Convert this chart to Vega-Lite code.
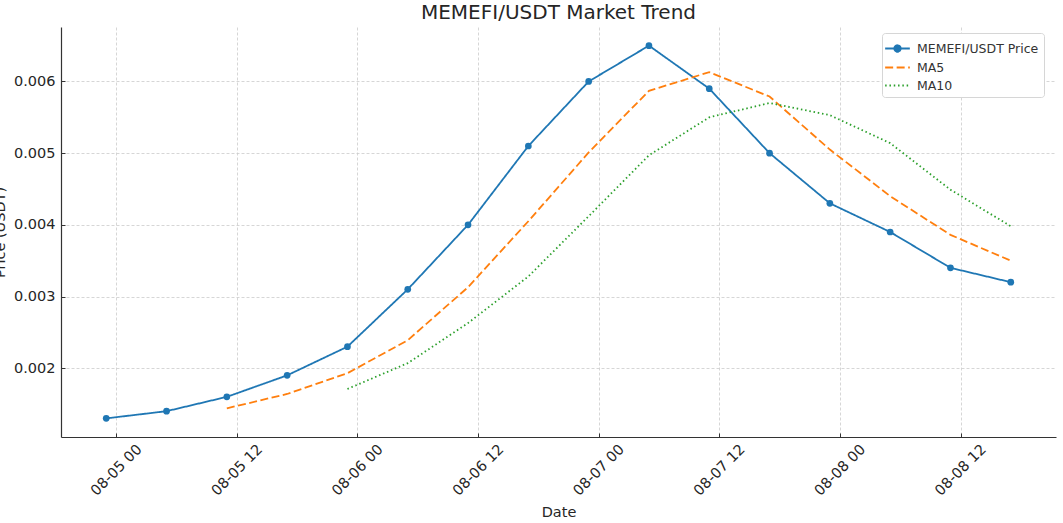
{
  "$schema": "https://vega.github.io/schema/vega-lite/v6.json",
  "autosize": {"type": "none"},
  "width": 995,
  "height": 410,
  "padding": {"left": 61, "top": 27, "right": 7, "bottom": 86},
  "background": "white",
  "title": {
    "text": "MEMEFI/USDT Market Trend",
    "font": "DejaVu Sans",
    "fontSize": 20,
    "fontWeight": "normal",
    "color": "#262626",
    "anchor": "middle",
    "offset": 4
  },
  "config": {
    "view": {"stroke": null},
    "font": "DejaVu Sans",
    "axis": {
      "labelFont": "DejaVu Sans",
      "labelFontSize": 14.5,
      "labelColor": "#262626",
      "titleFont": "DejaVu Sans",
      "titleFontSize": 14.5,
      "titleFontWeight": "normal",
      "titleColor": "#262626",
      "domainColor": "#333333",
      "domainWidth": 1.2,
      "tickColor": "#333333",
      "tickSize": -4,
      "tickWidth": 1,
      "grid": true,
      "gridColor": "#cccccc",
      "gridDash": [3, 2],
      "gridWidth": 0.8
    }
  },
  "data": {
    "values": [
      {"date": "2024-08-04T23:00:00", "series": "MEMEFI/USDT Price", "price": 0.0013},
      {"date": "2024-08-05T05:00:00", "series": "MEMEFI/USDT Price", "price": 0.0014},
      {"date": "2024-08-05T11:00:00", "series": "MEMEFI/USDT Price", "price": 0.0016},
      {"date": "2024-08-05T17:00:00", "series": "MEMEFI/USDT Price", "price": 0.0019},
      {"date": "2024-08-05T23:00:00", "series": "MEMEFI/USDT Price", "price": 0.0023},
      {"date": "2024-08-06T05:00:00", "series": "MEMEFI/USDT Price", "price": 0.0031},
      {"date": "2024-08-06T11:00:00", "series": "MEMEFI/USDT Price", "price": 0.0040},
      {"date": "2024-08-06T17:00:00", "series": "MEMEFI/USDT Price", "price": 0.0051},
      {"date": "2024-08-06T23:00:00", "series": "MEMEFI/USDT Price", "price": 0.0060},
      {"date": "2024-08-07T05:00:00", "series": "MEMEFI/USDT Price", "price": 0.0065},
      {"date": "2024-08-07T11:00:00", "series": "MEMEFI/USDT Price", "price": 0.0059},
      {"date": "2024-08-07T17:00:00", "series": "MEMEFI/USDT Price", "price": 0.0050},
      {"date": "2024-08-07T23:00:00", "series": "MEMEFI/USDT Price", "price": 0.0043},
      {"date": "2024-08-08T05:00:00", "series": "MEMEFI/USDT Price", "price": 0.0039},
      {"date": "2024-08-08T11:00:00", "series": "MEMEFI/USDT Price", "price": 0.0034},
      {"date": "2024-08-08T17:00:00", "series": "MEMEFI/USDT Price", "price": 0.0032},
      {"date": "2024-08-05T11:00:00", "series": "MA5", "price": 0.00144},
      {"date": "2024-08-05T17:00:00", "series": "MA5", "price": 0.00164},
      {"date": "2024-08-05T23:00:00", "series": "MA5", "price": 0.00193},
      {"date": "2024-08-06T05:00:00", "series": "MA5", "price": 0.00239},
      {"date": "2024-08-06T11:00:00", "series": "MA5", "price": 0.00313},
      {"date": "2024-08-06T17:00:00", "series": "MA5", "price": 0.00405},
      {"date": "2024-08-06T23:00:00", "series": "MA5", "price": 0.00501},
      {"date": "2024-08-07T05:00:00", "series": "MA5", "price": 0.00587},
      {"date": "2024-08-07T11:00:00", "series": "MA5", "price": 0.00613},
      {"date": "2024-08-07T17:00:00", "series": "MA5", "price": 0.00579},
      {"date": "2024-08-07T23:00:00", "series": "MA5", "price": 0.00505},
      {"date": "2024-08-08T05:00:00", "series": "MA5", "price": 0.00440},
      {"date": "2024-08-08T11:00:00", "series": "MA5", "price": 0.00386},
      {"date": "2024-08-08T17:00:00", "series": "MA5", "price": 0.00350},
      {"date": "2024-08-05T23:00:00", "series": "MA10", "price": 0.00171},
      {"date": "2024-08-06T05:00:00", "series": "MA10", "price": 0.00207},
      {"date": "2024-08-06T11:00:00", "series": "MA10", "price": 0.00263},
      {"date": "2024-08-06T17:00:00", "series": "MA10", "price": 0.00328},
      {"date": "2024-08-06T23:00:00", "series": "MA10", "price": 0.00412},
      {"date": "2024-08-07T05:00:00", "series": "MA10", "price": 0.00497},
      {"date": "2024-08-07T11:00:00", "series": "MA10", "price": 0.00550},
      {"date": "2024-08-07T17:00:00", "series": "MA10", "price": 0.00570},
      {"date": "2024-08-07T23:00:00", "series": "MA10", "price": 0.00553},
      {"date": "2024-08-08T05:00:00", "series": "MA10", "price": 0.00514},
      {"date": "2024-08-08T11:00:00", "series": "MA10", "price": 0.00449},
      {"date": "2024-08-08T17:00:00", "series": "MA10", "price": 0.00398}
    ]
  },
  "encoding": {
    "x": {
      "field": "date",
      "type": "temporal",
      "title": "Date",
      "scale": {
        "domain": [
          {"year": 2024, "month": 8, "date": 4, "hours": 18, "minutes": 30},
          {"year": 2024, "month": 8, "date": 8, "hours": 21, "minutes": 30}
        ],
        "nice": false
      },
      "axis": {
        "values": [
          {"year": 2024, "month": 8, "date": 5, "hours": 0},
          {"year": 2024, "month": 8, "date": 5, "hours": 12},
          {"year": 2024, "month": 8, "date": 6, "hours": 0},
          {"year": 2024, "month": 8, "date": 6, "hours": 12},
          {"year": 2024, "month": 8, "date": 7, "hours": 0},
          {"year": 2024, "month": 8, "date": 7, "hours": 12},
          {"year": 2024, "month": 8, "date": 8, "hours": 0},
          {"year": 2024, "month": 8, "date": 8, "hours": 12}
        ],
        "format": "%m-%d %H",
        "labelAngle": -45,
        "labelAlign": "center",
        "labelBaseline": "middle",
        "labelPadding": 37,
        "titlePadding": 8,
        "labelOverlap": false,
        "labelFlush": false
      }
    },
    "y": {
      "field": "price",
      "type": "quantitative",
      "title": "Price (USDT)",
      "scale": {"domain": [0.00104, 0.00676], "nice": false, "zero": false},
      "axis": {
        "values": [0.002, 0.003, 0.004, 0.005, 0.006],
        "format": ".3f",
        "labelPadding": 10,
        "titlePadding": 6
      }
    }
  },
  "layer": [
    {
      "mark": {"type": "line", "strokeWidth": 1.8},
      "encoding": {
        "color": {
          "field": "series",
          "type": "nominal",
          "scale": {
            "domain": ["MEMEFI/USDT Price", "MA5", "MA10"],
            "range": ["#1f77b4", "#ff7f0e", "#2ca02c"]
          },
          "legend": {
            "title": null,
            "orient": "none",
            "legendX": 821,
            "legendY": 6,
            "symbolType": "M-1.3,0H1.3",
            "symbolSize": 361,
            "symbolStrokeWidth": 1.8,
            "labelFont": "DejaVu Sans",
            "labelFontSize": 12.5,
            "labelColor": "#333333",
            "labelOffset": 9,
            "rowPadding": 1,
            "padding": 5,
            "strokeColor": "#d6d6d6",
            "cornerRadius": 3,
            "fillColor": "white",
            "encode": {
              "symbols": {
                "update": {
                  "shape": {"signal": "datum.value === 'MEMEFI/USDT Price' ? 'M-1.3,0H1.3M0.34,0A0.34,0.34 0 1,1 -0.34,0A0.34,0.34 0 1,1 0.34,0Z' : 'M-1.3,0H1.3'"},
                  "fill": {"signal": "datum.value === 'MEMEFI/USDT Price' ? '#1f77b4' : 'transparent'"}
                }
              }
            }
          }
        },
        "strokeDash": {
          "field": "series",
          "type": "nominal",
          "scale": {
            "domain": ["MEMEFI/USDT Price", "MA5", "MA10"],
            "range": [[1, 0], [8, 3.5], [1.5, 2.8]]
          },
          "legend": null
        }
      }
    },
    {
      "transform": [{"filter": "datum.series === 'MEMEFI/USDT Price'"}],
      "mark": {"type": "point", "filled": true, "opacity": 1, "size": 45, "color": "#1f77b4"},
      "encoding": {}
    }
  ]
}
